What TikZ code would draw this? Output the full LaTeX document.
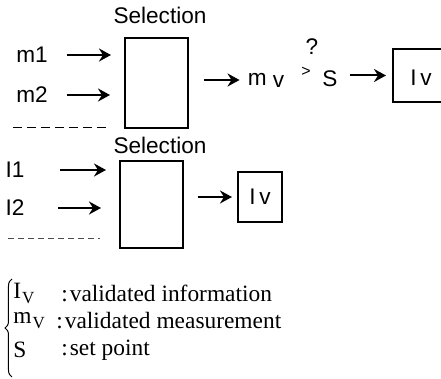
\documentclass[tikz,border=0pt]{standalone}
\usepackage{fontspec}
\setmainfont{Liberation Serif}
\setsansfont{Liberation Sans}
\usetikzlibrary{arrows.meta,decorations.pathreplacing}

\begin{document}
\begin{tikzpicture}[
  x=0.5pt, y=-0.5pt,
  every node/.style={inner sep=0pt},
  lbl/.style={font=\sffamily\fontsize{11.3}{13}\selectfont},
  small/.style={font=\sffamily\fontsize{8}{9}\selectfont},
  legend/.style={font=\rmfamily\fontsize{11.7}{14}\selectfont, anchor=west},
  selbox/.style={draw, line width=1pt, minimum width=31.5pt},
  outbox/.style={draw, line width=1pt, lbl},
  arrow/.style={draw, line width=1pt, -{Stealth[length=6pt, width=6.5pt, inset=2pt]}},
  sep/.style={draw, line width=0.4pt, dash pattern=on 4.5pt off 2.5pt}]

  \useasboundingbox (0,0) rectangle (441,379);

  % selection blocks
  \node[lbl] (selAt) at (160,15) {Selection};
  \node[selbox, minimum height=45pt] (selA) at (156.5,83) {};
  \node[lbl] (selBt) at (160,145) {Selection};
  \node[selbox, minimum height=43.5pt] (selB) at (151.5,204.5) {};

  % inputs
  \node[lbl] (m1) at (32,55) {m1};
  \node[lbl] (m2) at (32,95) {m2};
  \node[lbl] (i1) at (15,170) {I1};
  \node[lbl] (i2) at (15,208) {I2};

  % comparison with the set point
  \node[lbl] (mv) at (266,80) {m\hspace{3pt}\raisebox{-1pt}{v}};
  \node[small] (gt) at (306,72) {>};
  \node[lbl] (qm) at (312,47) {?};
  \node[lbl] (sp) at (330,79) {S};

  % validated information (the upper box runs off the right edge)
  \node[outbox, minimum width=40pt, minimum height=26.5pt] (ivA) at (433,75.5) {};
  \node[lbl] (ivAt) at (421,78) {I\,v};
  \node[outbox, minimum width=22pt, minimum height=25pt] (ivB) at (260,197) {I\,v};

  % arrows
  \draw[arrow, shorten <=9.7pt, shorten >=6.5pt] (m1) -- (m1 -| selA.west);
  \draw[arrow, shorten <=9.7pt, shorten >=7pt] (m2) -- (m2 -| selA.west);
  \draw[arrow, shorten <=17.8pt, shorten >=6.5pt] (i1) -- (i1 -| selB.west);
  \draw[arrow, shorten <=16.8pt, shorten >=9pt] (i2) -- (i2 -| selB.west);
  \draw[arrow, shorten <=7.5pt, shorten >=4pt] (selA.east |- mv) -- (mv.west);
  \draw[arrow, shorten <=6.2pt, shorten >=3pt] (sp.east |- ivA) -- (ivA.west);
  \draw[arrow, shorten <=7pt, shorten >=2.5pt] (selB.east |- ivB) -- (ivB.west);

  % separators
  \draw[sep] (13,127) -- (108,127);
  \draw[sep, black!70, line width=0.35pt, dash pattern=on 3pt off 2pt] (8,238) -- (100,238);

  % legend
  \node[legend] (lgI)  at (13,293) {I\hspace{0.5pt}\raisebox{-2.5pt}{\fontsize{8.5}{9}\selectfont V}};
  \node[legend] (lgIt) at (61,293) {:\hspace{1pt}validated information};
  \node[legend] (lgm)  at (13,321) {m\hspace{0.5pt}\raisebox{-2.5pt}{\fontsize{8.5}{9}\selectfont V}};
  \node[legend] (lgmt) at (56,321) {:\hspace{1pt}validated measurement};
  \node[legend] (lgS)  at (13,350) {S};
  \node[legend] (lgSt) at (61,350) {:\hspace{1pt}set point};
  \draw[decorate, decoration={brace, amplitude=3.5pt}, line width=0.5pt] (12,377) -- (12,279);
\end{tikzpicture}
\end{document}
